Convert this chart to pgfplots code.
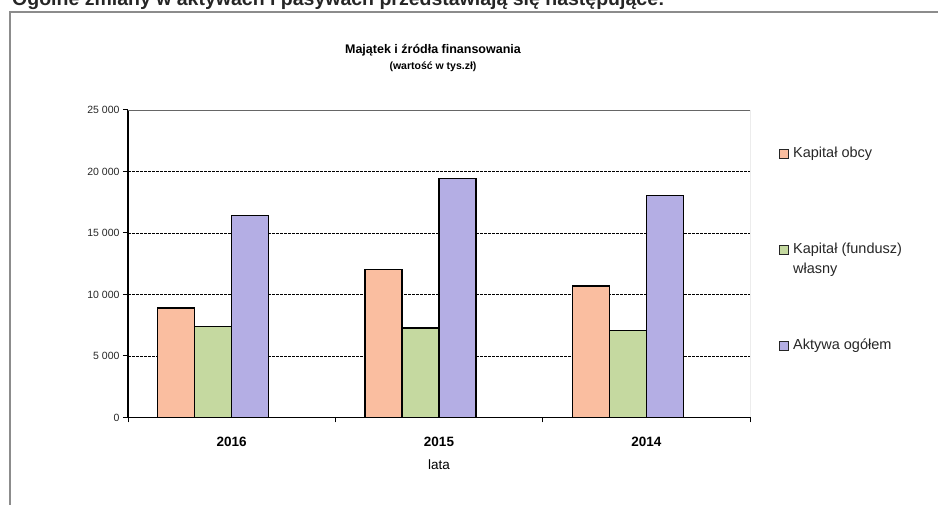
\documentclass[border=0pt]{standalone}
\usepackage{pgfplots}
\pgfplotsset{compat=1.18}
\usepackage{fontspec}
\setmainfont{Liberation Sans}
\definecolor{corange}{RGB}{250,190,160}
\definecolor{cgreen}{RGB}{197,217,160}
\definecolor{cpurple}{RGB}{180,174,228}
\definecolor{framegray}{RGB}{140,140,140}
\begin{document}
\begin{tikzpicture}[x=1pt,y=1pt]
\useasboundingbox (0,0) rectangle (938,505);
\clip (0,0) rectangle (938,505);
% partially visible line of text above the chart
\node[anchor=base west, inner sep=0pt, font=\fontsize{19.5}{22}\selectfont\bfseries, text=black!85] at (12,499)
  {Ogólne zmiany w aktywach i pasywach przedstawiają się następujące:};
% frame
\draw[framegray, line width=1.6pt] (945,493) -- (10,493) -- (10,-10);
% titles
\node[font=\fontsize{12.5}{14}\selectfont\bfseries] at (433,455) {Majątek i źródła finansowania};
\node[font=\fontsize{10.5}{12}\selectfont\bfseries] at (433,438) {(wartość w tys.zł)};
\begin{axis}[
  at={(128pt,87.5pt)}, anchor=south west,
  width=622pt, height=307.5pt, scale only axis,
  xmin=-0.5, xmax=2.5, ymin=0, ymax=25000,
  ybar=0pt, bar width=37pt,
  axis x line*=bottom, axis y line*=left,
  axis line style={black, line width=1.1pt},
  xtick={0,1,2}, xticklabels={2016,2015,2014},
  minor xtick={-0.5,0.5,1.5,2.5},
  major x tick style={draw=none},
  minor x tick style={black, line width=1pt},
  minor tick length=5pt,
  tick align=outside,
  ytick={0,5000,10000,15000,20000,25000},
  major y tick style={black, line width=1pt},
  major tick length=5pt,
  ymajorgrids,
  grid style={black, line width=0.6pt, dash pattern=on 2.5pt off 1.5pt},
  /pgf/number format/assume math mode=true,
  /pgf/number format/1000 sep={\ },
  scaled y ticks=false,
  yticklabel style={font=\fontsize{10.5}{12}\selectfont, text=black!85},
  xticklabel style={font=\fontsize{13.5}{15}\selectfont\bfseries, anchor=center, yshift=-19pt},
  xlabel={lata},
  every axis x label/.style={at={(axis description cs:0.5,0)}, anchor=center, yshift=-47.5pt, font=\fontsize{13.5}{15}\selectfont},
  legend style={at={(axis description cs:1.0466,0.8793)}, anchor=north west, draw=none, fill=none,
    inner sep=0pt, row sep=84pt, column sep=4pt,
    font=\fontsize{14.5}{20}\selectfont, text=black!85,
    cells={anchor=base west}, nodes={inner sep=0pt}},
  sq/.style={legend image code/.code={\draw[##1, line width=1pt, draw=black!85] (0pt,-0.5pt) rectangle (9pt,8.5pt);}},
]
\addplot[fill=corange, draw=black, line width=1.2pt, sq, bar shift=-55.5pt] coordinates {(0,8900) (1,12030) (2,10690)};
\addplot[fill=cgreen, draw=black, line width=1.2pt, sq, bar shift=-18.5pt] coordinates {(0,7430) (1,7270) (2,7090)};
\addplot[fill=cpurple, draw=black, line width=1.2pt, sq, bar shift=18.5pt] coordinates {(0,16390) (1,19440) (2,18080)};
\legend{{Kapitał obcy}, {\vtop{\hbox{Kapitał (fundusz)}\hbox{własny}}}, {Aktywa ogółem}}
\draw[black!60, line width=0.9pt] (rel axis cs:0,1) -- (rel axis cs:1,1) -- (rel axis cs:1,0);
\end{axis}
\end{tikzpicture}
\end{document}
